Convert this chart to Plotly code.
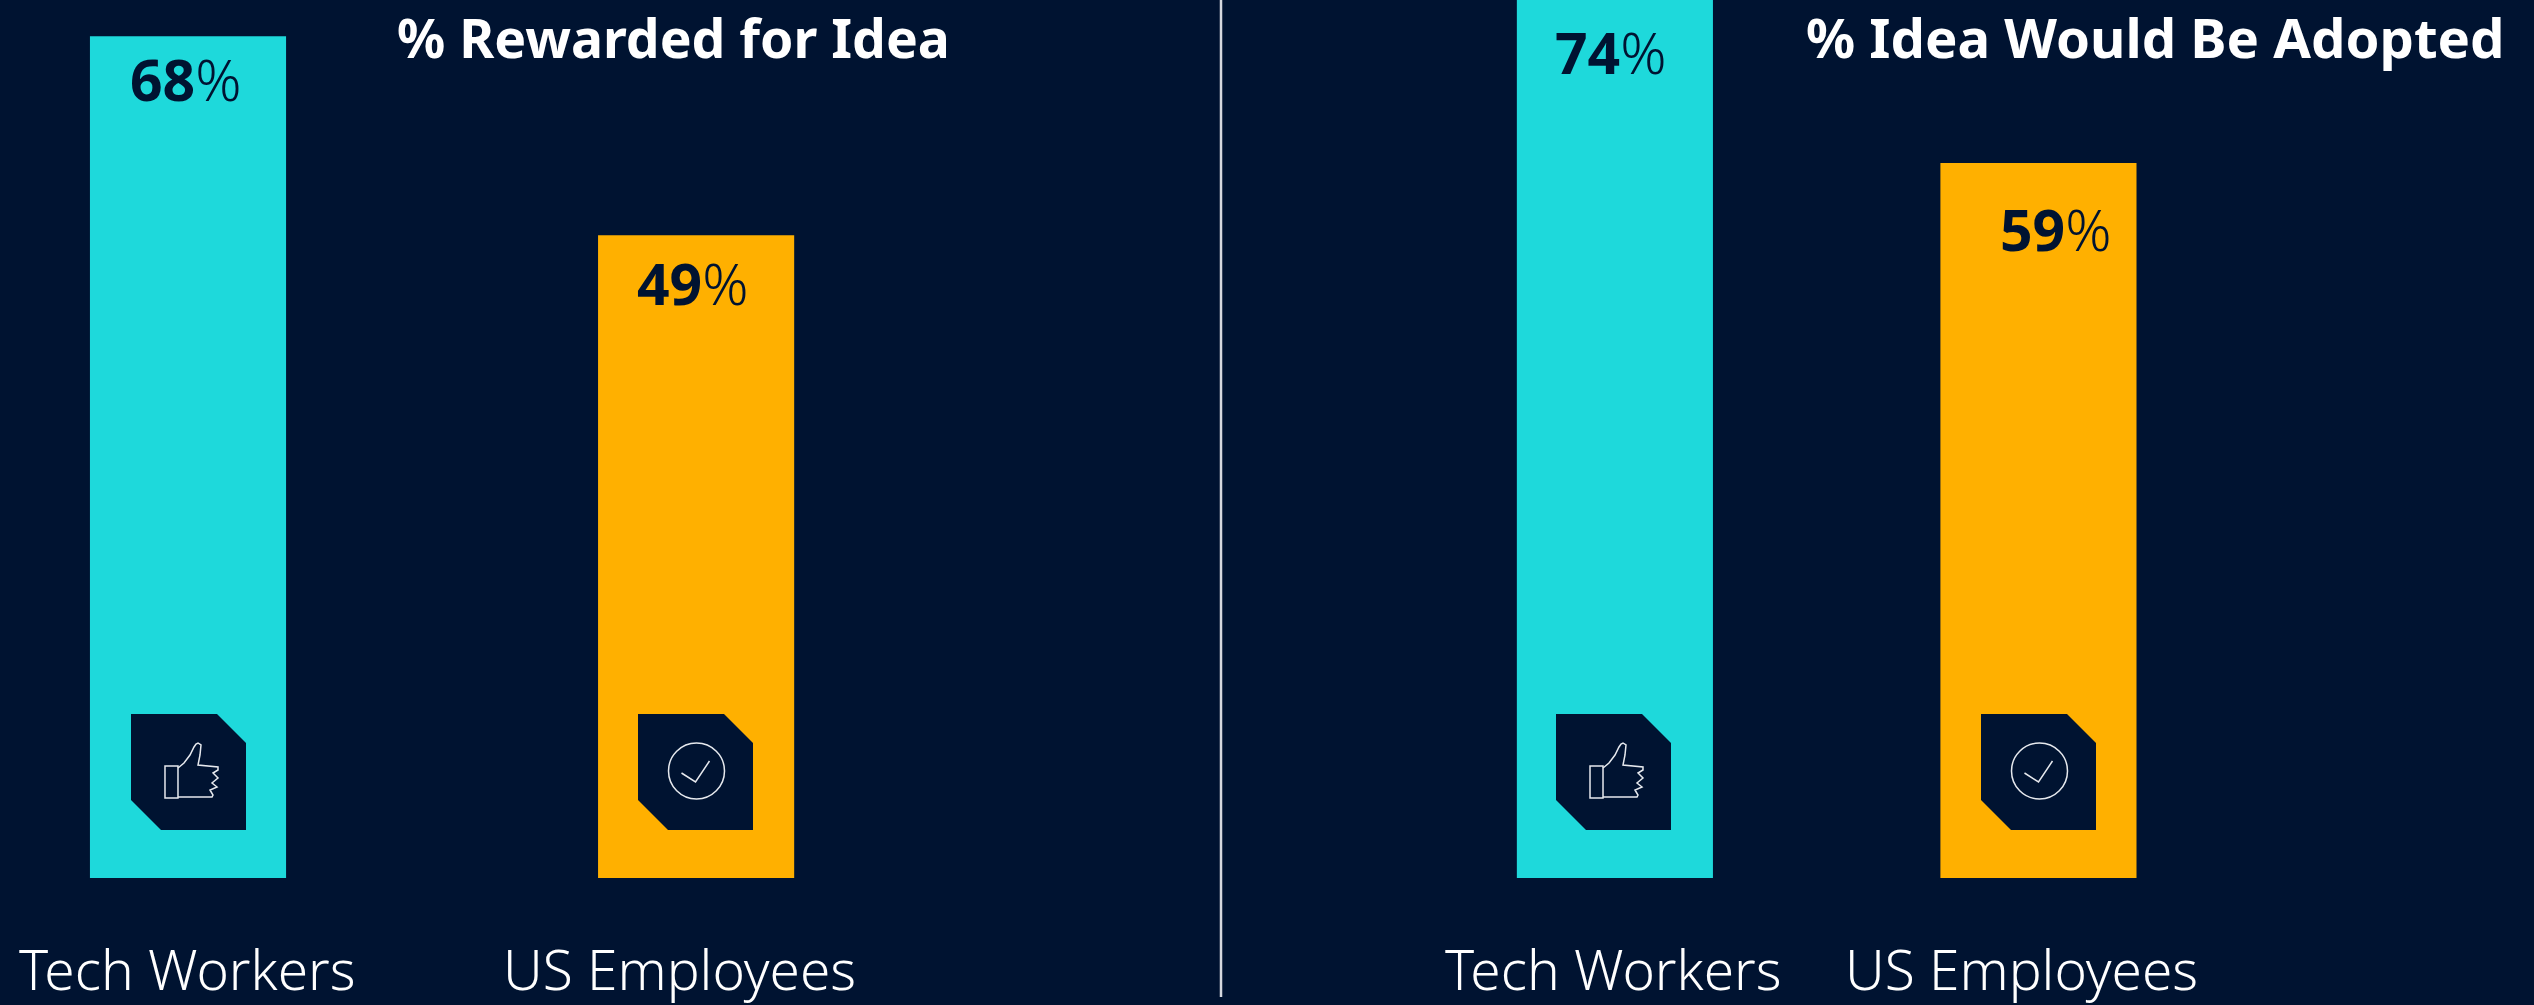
import plotly.graph_objects as go

W, H = 2534, 1005
BG = "#001331"
TEAL = "#1ED9DB"
AMBER = "#FFB000"
INK = "#001331"

categories = ["Tech Workers", "US Employees"]
rewarded_title = "% Rewarded for Idea"
adopted_title = "% Idea Would Be Adopted"
rewarded_values = [68, 49]
adopted_values = [74, 59]
# The left panel's bars are drawn on a baseline below zero in the reference
rewarded_floor = -12.4
adopted_floor = 0


def px(x):
    return x / W


def py(y):
    return 1 - y / H


def path(points, close=False):
    s = "M%.5f,%.5f" % (px(points[0][0]), py(points[0][1]))
    for p in points[1:]:
        s += " L%.5f,%.5f" % (px(p[0]), py(p[1]))
    return s + (" Z" if close else "")


fig = go.Figure()
for i, (vals, floor, name) in enumerate(
    [(rewarded_values, rewarded_floor, "Rewarded"), (adopted_values, adopted_floor, "Adopted")]
):
    ax = "" if i == 0 else "2"
    fig.add_trace(go.Bar(
        x=categories,
        y=[v - floor for v in vals],
        base=[floor] * 2,
        width=0.386 if i == 0 else 0.463,
        marker=dict(color=[TEAL, AMBER], line=dict(width=0)),
        xaxis="x" + ax, yaxis="y" + ax, name=name, showlegend=False, hoverinfo="skip",
    ))

hidden = dict(visible=False, showgrid=False, zeroline=False, fixedrange=True)
fig.update_layout(
    width=W, height=H, autosize=False,
    margin=dict(l=0, r=0, t=0, b=0),
    paper_bgcolor=BG, plot_bgcolor="rgba(0,0,0,0)",
    font=dict(family="Noto Sans, sans-serif"),
    xaxis=dict(domain=[0, 1221 / W], range=[-0.37, 2.033], type="category",
               categoryorder="array", categoryarray=categories, **hidden),
    yaxis=dict(domain=[(H - 878) / H, 1], range=[rewarded_floor, rewarded_floor + 878 / 10.47], **hidden),
    xaxis2=dict(domain=[1221 / W, 1], range=[-0.930, 2.170], type="category",
                categoryorder="array", categoryarray=categories, **hidden),
    yaxis2=dict(domain=[(H - 878) / H, 1], range=[0, 878 / 12.12], anchor="x2", **hidden),
)

notes = []
def text(t, x, y, size, color, weight=400):
    notes.append(dict(text=t, x=px(x), y=py(y), xref="paper", yref="paper", xanchor="center",
                      yanchor="middle", showarrow=False,
                      font=dict(size=size, color=color, weight=weight)))

text("<b>%s</b>" % rewarded_title, 673, 37, 53.5, "#FFFFFF")
text("<b>%s</b>" % adopted_title, 2155, 37, 54.5, "#FFFFFF")

label_pos = [(187, 968), (679, 968), (1613, 968), (2022, 968)]
for (x, y), lab in zip(label_pos, categories * 2):
    text(lab, x, y, 55, "#FFFFFF", 300)

val_pos = [(186, 79), (693, 283), (1611, 52), (2056, 229)]
for (x, y), v in zip(val_pos, rewarded_values + adopted_values):
    text("<b>%d</b>%%" % v, x, y, 57, INK, 300)
fig.update_layout(annotations=notes)

shapes = [dict(type="line", xref="paper", yref="paper", x0=px(1221), x1=px(1221), y0=py(0), y1=py(997),
               line=dict(color="#D5D8DE", width=2.5))]


def badge(x0, y0):
    pts = [(x0, y0), (x0 + 86, y0), (x0 + 115, y0 + 29), (x0 + 115, y0 + 116),
           (x0 + 30, y0 + 116), (x0, y0 + 86)]
    shapes.append(dict(type="path", xref="paper", yref="paper", path=path(pts, True),
                       fillcolor=BG, line=dict(width=0), layer="above"))


ICON = dict(color="#E6E9EE", width=1.5)


def thumb(x0, y0):
    cuff = [(34, 52), (47, 52), (47, 84), (34, 84)]
    hand = [(47, 54), (53, 49), (59, 41), (63, 33), (65, 30), (67, 29), (70, 31), (69, 41), (67, 51),
            (87, 53), (87, 56), (82, 59), (87, 64), (81, 69), (86, 73), (79, 76), (82, 81), (81, 83), (47, 83)]
    for pts, c in ((cuff, True), (hand, False)):
        shapes.append(dict(type="path", xref="paper", yref="paper", layer="above", line=ICON,
                           path=path([(x0 + a, y0 + b) for a, b in pts], c)))


def check(x0, y0):
    cx, cy, r = x0 + 58.5, y0 + 57, 28
    shapes.append(dict(type="circle", xref="paper", yref="paper", x0=px(cx - r), x1=px(cx + r),
                       y0=py(cy + r), y1=py(cy - r), line=ICON, layer="above"))
    pts = [(cx - 15, cy + 2), (cx - 1, cy + 11), (cx + 13, cy - 10)]
    shapes.append(dict(type="path", xref="paper", yref="paper", layer="above", line=ICON, path=path(pts)))


for x0, icon in [(131, thumb), (638, check), (1556, thumb), (1981, check)]:
    badge(x0, 714)
    icon(x0, 714)

fig.update_layout(shapes=shapes)
fig.write_html("out.html", config=dict(displayModeBar=False),
               post_script="document.body.style.margin='0';document.documentElement.style.overflow='hidden';")
